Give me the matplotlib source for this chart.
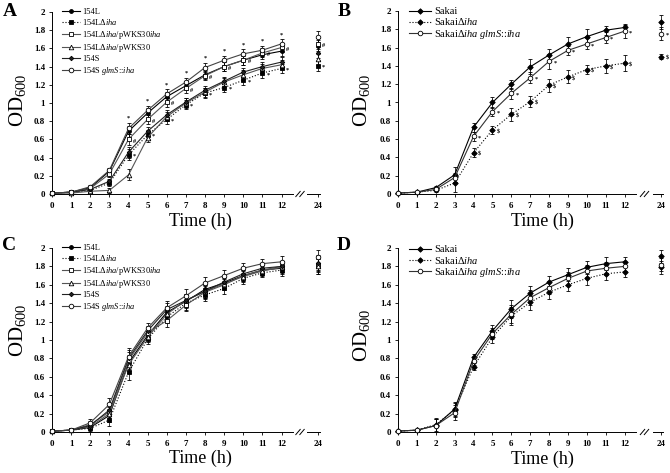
import matplotlib
matplotlib.use("Agg")
import matplotlib.pyplot as plt
from matplotlib.lines import Line2D

plt.rcParams['font.family'] = ['Liberation Serif', 'DejaVu Serif']
plt.rcParams['mathtext.fontset'] = 'custom'
plt.rcParams['mathtext.rm'] = 'Liberation Serif'
plt.rcParams['mathtext.it'] = 'Liberation Serif:italic'
plt.rcParams['mathtext.bf'] = 'Liberation Serif:bold'

# ---------------- data ----------------
times = [0, 1, 2, 3, 4, 5, 6, 7, 8, 9, 10, 11, 12]
late_time = 24
ytick_vals = [0, 0.2, 0.4, 0.6, 0.8, 1, 1.2, 1.4, 1.6, 1.8, 2]
ytick_labels = ["0", "0.2", "0.4", "0.6", "0.8", "1", "1.2", "1.4", "1.6", "1.8", "2"]

labels_154 = ["154L", r"154L$\Delta\mathit{iha}$", r"154L$\Delta\mathit{iha}$/pWKS30$\mathit{iha}$",
              r"154L$\Delta\mathit{iha}$/pWKS30", "154S", r"154S $\mathit{glmS}$::$\mathit{iha}$"]
labels_sakai = ["Sakai", r"Sakai$\Delta\mathit{iha}$", r"Sakai$\Delta\mathit{iha}$ $\mathit{glmS}$::$\mathit{iha}$"]

# Panel A (values at 0..12 h, then 24 h)
A_154L      = [0.01, 0.02, 0.07, 0.25, 0.69, 0.89, 1.07, 1.19, 1.31, 1.40, 1.47, 1.53, 1.57, 1.63]
A_154L_iha  = [0.01, 0.02, 0.04, 0.12, 0.43, 0.65, 0.82, 0.98, 1.11, 1.17, 1.25, 1.33, 1.38, 1.41]
A_pWKSiha   = [0.01, 0.02, 0.06, 0.22, 0.60, 0.82, 1.01, 1.16, 1.30, 1.40, 1.47, 1.55, 1.61, 1.65]
A_pWKS      = [0.01, 0.01, 0.03, 0.04, 0.21, 0.62, 0.85, 1.00, 1.12, 1.23, 1.31, 1.38, 1.42, 1.48]
A_154S      = [0.01, 0.02, 0.05, 0.14, 0.46, 0.69, 0.87, 1.01, 1.14, 1.24, 1.34, 1.40, 1.45, 1.55]
A_154S_glmS = [0.01, 0.02, 0.08, 0.26, 0.72, 0.92, 1.10, 1.23, 1.39, 1.47, 1.54, 1.58, 1.65, 1.73]
A_err       = [0.01, 0.01, 0.02, 0.03, 0.06, 0.05, 0.05, 0.05, 0.05, 0.05, 0.05, 0.05, 0.05, 0.06]

# Panel B
B_sakai      = [0.01, 0.02, 0.07, 0.21, 0.73, 1.00, 1.20, 1.39, 1.52, 1.64, 1.72, 1.79, 1.82, 1.88]
B_sakai_iha  = [0.01, 0.02, 0.04, 0.12, 0.45, 0.70, 0.87, 1.01, 1.19, 1.28, 1.36, 1.40, 1.43, 1.50]
B_sakai_glmS = [0.01, 0.02, 0.05, 0.18, 0.63, 0.90, 1.10, 1.27, 1.45, 1.57, 1.64, 1.71, 1.78, 1.75]
B_err_sakai  = [0.01, 0.01, 0.02, 0.08, 0.05, 0.06, 0.05, 0.08, 0.07, 0.08, 0.08, 0.05, 0.04, 0.08]
B_err_iha    = [0.01, 0.01, 0.02, 0.10, 0.05, 0.04, 0.07, 0.06, 0.07, 0.07, 0.05, 0.08, 0.09, 0.03]
B_err_glmS   = [0.01, 0.01, 0.02, 0.05, 0.05, 0.05, 0.06, 0.06, 0.08, 0.05, 0.06, 0.06, 0.07, 0.07]

# Panel C
C_154L      = [0.01, 0.02, 0.05, 0.18, 0.75, 1.05, 1.30, 1.42, 1.55, 1.62, 1.70, 1.76, 1.78, 1.83]
C_154L_iha  = [0.01, 0.02, 0.04, 0.13, 0.65, 1.01, 1.25, 1.40, 1.49, 1.56, 1.67, 1.73, 1.76, 1.80]
C_pWKSiha   = [0.01, 0.02, 0.08, 0.22, 0.78, 1.08, 1.21, 1.38, 1.52, 1.60, 1.70, 1.76, 1.80, 1.82]
C_pWKS      = [0.01, 0.02, 0.06, 0.20, 0.73, 1.03, 1.28, 1.43, 1.53, 1.61, 1.69, 1.75, 1.79, 1.80]
C_154S      = [0.01, 0.02, 0.07, 0.24, 0.80, 1.10, 1.33, 1.43, 1.53, 1.63, 1.72, 1.78, 1.80, 1.84]
C_154S_glmS = [0.01, 0.02, 0.10, 0.30, 0.82, 1.13, 1.35, 1.48, 1.62, 1.70, 1.78, 1.83, 1.85, 1.90]
C_err       = [0.01, 0.01, 0.04, 0.07, 0.09, 0.05, 0.07, 0.07, 0.07, 0.06, 0.06, 0.05, 0.06, 0.08]

# Panel D
D_sakai      = [0.01, 0.02, 0.07, 0.25, 0.81, 1.10, 1.34, 1.51, 1.63, 1.71, 1.79, 1.83, 1.85, 1.91]
D_sakai_iha  = [0.01, 0.02, 0.08, 0.24, 0.71, 1.03, 1.26, 1.41, 1.52, 1.60, 1.67, 1.72, 1.74, 1.79]
D_sakai_glmS = [0.01, 0.02, 0.07, 0.21, 0.77, 1.07, 1.28, 1.46, 1.57, 1.67, 1.75, 1.78, 1.80, 1.82]
D_err        = [0.01, 0.01, 0.07, 0.08, 0.04, 0.06, 0.10, 0.08, 0.07, 0.07, 0.07, 0.07, 0.05, 0.07]

# ---------------- styles ----------------
style_154 = [
    dict(ls='-', color='black', marker='o', mfc='black', ms=2.8),
    dict(ls=':', color='black', marker='s', mfc='black', ms=3.3),
    dict(ls='-', color='#555555', marker='s', mfc='white', ms=3.3),
    dict(ls='-', color='#555555', marker='^', mfc='white', ms=3.3),
    dict(ls='-', color='#222222', marker='D', mfc='#222222', ms=2.3),
    dict(ls='-', color='#444444', marker='o', mfc='white', ms=3.3),
]
style_sakai = [
    dict(ls='-', color='black', marker='D', mfc='black', ms=2.8),
    dict(ls=':', color='black', marker='D', mfc='black', ms=2.8),
    dict(ls='-', color='#333333', marker='o', mfc='white', ms=3.3),
]

W, H = 670, 473
fig = plt.figure(figsize=(W / 100, H / 100), dpi=100)


def fx(px):
    return px / W


def fy(py):
    return 1 - py / H


def make_panel(x0, x12_end, xr0, xr1, ytop, ybot, letter, series, errs, labels, styles,
               leg_x, leg_y, leg_fs, leg_spacing, handle_len, marks, xlab_xy, ylab_xy, letter_xy):
    axL = fig.add_axes([fx(x0), fy(ybot), fx(x12_end - x0), fy(ytop) - fy(ybot)])
    axR = fig.add_axes([fx(xr0), fy(ybot), fx(xr1 - xr0), fy(ytop) - fy(ybot)])
    handles = []
    for vals, err, lab, st in zip(series, errs, labels, styles):
        st = dict(st)
        ls = st.pop('ls')
        col = st.pop('color')
        axL.errorbar(times, vals[:13], yerr=err[:13], ls=ls, color=col, lw=0.8,
                     mec='black', mew=0.6, ecolor='black', elinewidth=0.55,
                     capsize=1.5, capthick=0.55, clip_on=False, zorder=3, **st)
        axR.errorbar([late_time], [vals[13]], yerr=[err[13]], ls='none', color=col,
                     mec='black', mew=0.6, ecolor='black', elinewidth=0.55,
                     capsize=1.5, capthick=0.55, clip_on=False, zorder=3, **st)
        handles.append(Line2D([], [], ls=ls, color=col, lw=0.8, mec='black', mew=0.6, **st))

    # significance marks
    for idx, sym, where in marks:
        vals = series[idx]
        err = errs[idx]
        for i in range(4, 14):
            ax = axL if i < 13 else axR
            xv = times[i] if i < 13 else late_time
            if where == 'right':
                ax.annotate(sym, (xv, vals[i]), xytext=(3.0, -1.2), textcoords='offset points',
                            fontsize=4.5, fontweight='bold', ha='left', va='center',
                            annotation_clip=False)
            else:
                if i == 13:
                    continue
                ax.annotate(sym, (xv, vals[i] + err[i]), xytext=(0, 1.5), textcoords='offset points',
                            fontsize=4.5, fontweight='bold', ha='center', va='bottom',
                            annotation_clip=False)

    for ax in (axL, axR):
        ax.set_ylim(0, 2)
        ax.spines['top'].set_visible(False)
        ax.spines['right'].set_visible(False)
        ax.tick_params(direction='out', length=2.5, width=0.6, labelsize=6.5, pad=2.5)
        ax.tick_params(axis='x', pad=3.6)
        for sp in ax.spines.values():
            sp.set_linewidth(0.7)
        ax.patch.set_alpha(0)
    axL.set_xlim(0, 12.6)
    axL.set_xticks(times)
    axL.set_xticklabels([str(t) for t in times])
    axL.set_yticks(ytick_vals)
    axL.set_yticklabels(ytick_labels)
    axR.set_xlim(23.45, 24.12)
    axR.set_xticks([late_time])
    axR.set_xticklabels([str(late_time)])
    axR.spines['left'].set_visible(False)
    axR.set_yticks([])
    for ax in (axL, axR):
        for t in ax.get_xticklabels() + ax.get_yticklabels():
            t.set_fontweight('bold')

    # break marks
    bx = (x12_end + xr0) / 2
    for dx in (-2.0, 2.0):
        fig.add_artist(Line2D([fx(bx + dx - 2.2), fx(bx + dx + 2.2)], [fy(ybot + 2.6), fy(ybot - 2.6)],
                              color='black', lw=0.7))

    fig.legend(handles=handles, labels=labels, loc='upper left',
               bbox_to_anchor=(fx(leg_x), fy(leg_y)), frameon=False, fontsize=leg_fs,
               handlelength=handle_len, handletextpad=0.3, labelspacing=leg_spacing,
               borderpad=0, borderaxespad=0)
    fig.text(fx(xlab_xy[0]), fy(xlab_xy[1]), "Time (h)", fontsize=13, ha='center', va='center')
    fig.text(fx(ylab_xy[0]), fy(ylab_xy[1]), r"OD$_{\mathit{600}}$", fontsize=15, ha='center',
             va='center', rotation=90)
    fig.text(fx(letter_xy[0]), fy(letter_xy[1]), letter, fontsize=14, fontweight='bold',
             ha='center', va='center')


make_panel(52, 293, 307, 320, 12, 194, "A",
           [A_154L, A_154L_iha, A_pWKSiha, A_pWKS, A_154S, A_154S_glmS],
           [A_err] * 6, labels_154, style_154,
           62, 8, 6.0, 0.16, 2.1,
           [(1, '*', 'right'), (2, '#', 'right'), (5, '*', 'above')],
           (200, 221), (17, 100), (10, 12))

make_panel(398, 636, 653, 663, 11, 194, "B",
           [B_sakai, B_sakai_iha, B_sakai_glmS],
           [B_err_sakai, B_err_iha, B_err_glmS], labels_sakai, style_sakai,
           409, 7, 7.5, 0.02, 2.1,
           [(2, '*', 'right'), (1, '$', 'right')],
           (542, 221), (362, 100), (344, 12))

make_panel(52, 293, 307, 320, 248, 432, "C",
           [C_154L, C_154L_iha, C_pWKSiha, C_pWKS, C_154S, C_154S_glmS],
           [C_err] * 6, labels_154, style_154,
           62, 244, 6.0, 0.16, 2.1,
           [],
           (200, 458), (17, 330), (9, 245))

make_panel(398, 636, 653, 663, 248, 432, "D",
           [D_sakai, D_sakai_iha, D_sakai_glmS],
           [D_err] * 3, labels_sakai, style_sakai,
           409, 245, 7.5, 0.02, 2.1,
           [],
           (542, 459), (362, 335), (344, 245))

fig.savefig("out.png", dpi=100)
